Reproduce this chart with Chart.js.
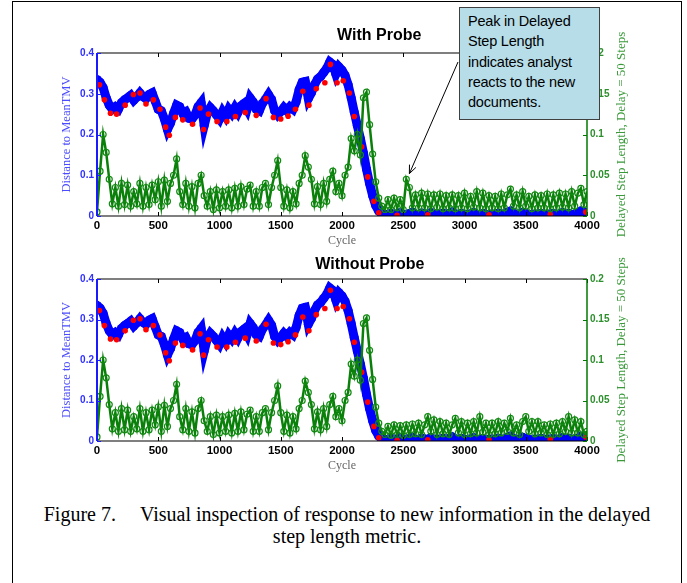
<!DOCTYPE html>
<html>
<head>
<meta charset="utf-8">
<script src="https://cdn.jsdelivr.net/npm/chart.js@4.4.1/dist/chart.umd.min.js"></script>
<style>
  body { margin: 0; background: #fff; }
  #page { position: relative; width: 687px; height: 583px; overflow: hidden; background: #fff; }
  #frame { position: absolute; left: 12px; top: 1px; width: 670px; height: 620px; border: 1.5px solid #000; box-sizing: border-box; }
  canvas { position: absolute; left: 0; }
  #topChart { top: 0; }
  #bottomChart { top: 245px; }
  #note {
    position: absolute; left: 459px; top: 7px; width: 141px; height: 113px;
    box-sizing: border-box; background: #b7dde8; border: 1px solid #404040;
    font-family: "Liberation Sans", Arial, sans-serif; font-size: 14.5px; line-height: 20.3px;
    padding: 3px 0 0 8px; color: #000; letter-spacing: -0.2px; z-index: 2;
  }
  #caption {
    position: absolute; left: 12px; top: 503px; width: 670px; text-align: center;
    font-family: "Liberation Serif", "Times New Roman", serif; font-size: 20px; line-height: 22px; color: #000;
  }
</style>
</head>
<body>
<div id="page">
  <div id="frame"></div>
  <canvas id="topChart" width="687" height="250"></canvas>
  <canvas id="bottomChart" width="687" height="230"></canvas>
  <div id="note">Peak in Delayed<br>Step Length<br>indicates analyst<br>reacts to the new<br>documents.</div>
  <div id="caption">Figure 7.<span style="display:inline-block;width:24px"></span>Visual inspection of response to new information in the delayed<br>step length metric.</div>
</div>
<script>
// samples are read every 25 cycles off the picture
let sampleStep = 25;

// distance to MeanTMV (left axis), 0..4000
let distance = [
  0.335, 0.328, 0.315, 0.29, 0.272, 0.262, 0.268, 0.262, 0.278, 0.285,
  0.29, 0.296, 0.284, 0.292, 0.302, 0.293, 0.288, 0.298, 0.302, 0.282,
  0.262, 0.258, 0.238, 0.212, 0.228, 0.252, 0.272, 0.268, 0.252, 0.256,
  0.24, 0.238, 0.248, 0.268, 0.278, 0.222, 0.252, 0.266, 0.258, 0.248,
  0.238, 0.256, 0.244, 0.262, 0.252, 0.266, 0.254, 0.27, 0.276, 0.262,
  0.29, 0.28, 0.262, 0.258, 0.276, 0.286, 0.298, 0.286, 0.258, 0.248,
  0.256, 0.266, 0.258, 0.268, 0.262, 0.28, 0.31, 0.328, 0.33, 0.288,
  0.302, 0.322, 0.336, 0.342, 0.352, 0.362, 0.378, 0.372, 0.348, 0.366,
  0.358, 0.345, 0.322, 0.29, 0.255, 0.222, 0.19, 0.155, 0.115, 0.08,
  0.05, 0.026, 0.012, 0.005, 0.003, 0.004, 0.006, 0.003, 0.005, 0.008,
  0.004, 0.003, 0.006, 0.009, 0.004, 0.003, 0.007, 0.005, 0.004, 0.008,
  0.003, 0.005, 0.004, 0.007, 0.003, 0.006, 0.01, 0.005, 0.003, 0.006,
  0.004, 0.003, 0.005, 0.008, 0.004, 0.003, 0.006, 0.004, 0.003, 0.005,
  0.004, 0.007, 0.005, 0.004, 0.009, 0.012, 0.006, 0.004, 0.005, 0.009,
  0.006, 0.004, 0.003, 0.005, 0.004, 0.006, 0.003, 0.005, 0.004, 0.006,
  0.003, 0.005, 0.008, 0.004, 0.006, 0.003, 0.005, 0.007, 0.012, 0.01,
  0.008
];

// red markers seen along the lower edge of the blue band: [cycle, distance]
let redPoints = [
  [20, 0.322], [60, 0.285], [110, 0.252], [160, 0.25], [230, 0.272], [297, 0.298],
  [351, 0.302], [400, 0.275], [460, 0.285], [514, 0.262], [560, 0.218], [590, 0.198],
  [640, 0.242], [700, 0.236], [780, 0.225], [841, 0.265], [870, 0.212], [910, 0.25],
  [980, 0.232], [1060, 0.232], [1130, 0.244], [1210, 0.254], [1300, 0.247], [1380, 0.288],
  [1440, 0.242], [1500, 0.238], [1560, 0.245], [1620, 0.262], [1680, 0.306], [1730, 0.272],
  [1790, 0.312], [1860, 0.327], [1905, 0.372], [1960, 0.327], [2010, 0.332], [2060, 0.302],
  [2100, 0.244], [2160, 0.17], [2210, 0.096], [2260, 0.036], [2300, 0.008], [2450, 0.002],
  [2700, 0.003], [3200, 0.003], [3700, 0.004], [3990, 0.01]
];

// delayed step length (right axis), 0..2350, same in both runs
let stepShared = [
  0.005, 0.055, 0.1, 0.078, 0.045, 0.015, 0.035, 0.012, 0.04, 0.014,
  0.038, 0.012, 0.03, 0.015, 0.04, 0.012, 0.035, 0.014, 0.038, 0.02,
  0.042, 0.012, 0.044, 0.018, 0.04, 0.05, 0.07, 0.03, 0.014, 0.04,
  0.012, 0.036, 0.01, 0.04, 0.05, 0.025, 0.012, 0.03, 0.008, 0.032,
  0.01, 0.03, 0.012, 0.032, 0.01, 0.034, 0.012, 0.036, 0.014, 0.033,
  0.038, 0.012, 0.03, 0.012, 0.035, 0.04, 0.014, 0.035, 0.05, 0.068,
  0.035, 0.012, 0.032, 0.01, 0.03, 0.015, 0.04, 0.05, 0.074, 0.06,
  0.045, 0.015, 0.036, 0.014, 0.04, 0.018, 0.045, 0.055, 0.03, 0.04,
  0.025, 0.05, 0.06, 0.095, 0.08, 0.1, 0.075, 0.145, 0.152, 0.112,
  0.076, 0.042, 0.022, 0.012, 0.008
];

// 2375..4000, with probe
let stepWithProbe = [
  0.02, 0.008, 0.022, 0.01, 0.02, 0.008, 0.045, 0.035, 0.01, 0.026,
  0.01, 0.028, 0.01, 0.027, 0.009, 0.026, 0.011, 0.027, 0.009, 0.025,
  0.01, 0.026, 0.009, 0.025, 0.01, 0.028, 0.009, 0.024, 0.011, 0.03,
  0.01, 0.028, 0.009, 0.025, 0.01, 0.024, 0.009, 0.027, 0.01, 0.026,
  0.033, 0.012, 0.026, 0.01, 0.03, 0.012, 0.024, 0.009, 0.026, 0.01,
  0.025, 0.01, 0.027, 0.009, 0.026, 0.01, 0.028, 0.011, 0.027, 0.01,
  0.03, 0.012, 0.028, 0.034, 0.014, 0.03
];

// 2375..4000, without probe
let stepWithoutProbe = [
  0.018, 0.007, 0.02, 0.008, 0.019, 0.007, 0.02, 0.008, 0.021, 0.009,
  0.022, 0.008, 0.02, 0.03, 0.012, 0.026, 0.008, 0.024, 0.009, 0.022,
  0.008, 0.02, 0.028, 0.01, 0.024, 0.008, 0.022, 0.009, 0.024, 0.01,
  0.03, 0.011, 0.022, 0.008, 0.022, 0.009, 0.024, 0.01, 0.022, 0.012,
  0.028, 0.01, 0.02, 0.008, 0.024, 0.03, 0.012, 0.024, 0.009, 0.024,
  0.01, 0.02, 0.008, 0.021, 0.008, 0.022, 0.009, 0.024, 0.012, 0.03,
  0.01, 0.026, 0.01, 0.024, 0.008, 0.012
];

let xTicks = [0, 500, 1000, 1500, 2000, 2500, 3000, 3500, 4000];
let leftTicks = [0, 0.1, 0.2, 0.3, 0.4];
let rightTicks = [0, 0.05, 0.1, 0.15, 0.2];

// where the note's arrow points: [cycle, step length]
let arrowTarget = [2550, 0.052];

const SANS = '"Liberation Sans", Arial, sans-serif';
const SERIF = '"Liberation Serif", "Times New Roman", serif';

function toPoints(values) {
  return values.map((v, i) => ({ x: i * sampleStep, y: v }));
}

function line(ctx, x1, y1, x2, y2) {
  ctx.beginPath();
  ctx.moveTo(x1, y1);
  ctx.lineTo(x2, y2);
  ctx.stroke();
}

// matlab style box, inward ticks, titles and the arrow
const matlabAxes = {
  id: 'matlabAxes',
  afterDraw(chart, args, opts) {
    let ctx = chart.ctx;
    let a = chart.chartArea;
    let sx = chart.scales.x, sy = chart.scales.y, sy2 = chart.scales.y2;
    ctx.save();

    ctx.strokeStyle = '#000';
    ctx.lineWidth = 1.2;
    line(ctx, a.left, a.top, a.right, a.top);
    line(ctx, a.left, a.bottom, a.right, a.bottom);
    ctx.lineWidth = 1;
    xTicks.forEach(t => {
      let px = Math.round(sx.getPixelForValue(t)) + 0.5;
      line(ctx, px, a.bottom, px, a.bottom - 4);
      line(ctx, px, a.top, px, a.top + 4);
    });

    ctx.strokeStyle = '#1a1aff';
    ctx.lineWidth = 2;
    line(ctx, a.left, a.top, a.left, a.bottom);
    ctx.lineWidth = 1;
    leftTicks.forEach(t => {
      let py = Math.round(sy.getPixelForValue(t)) + 0.5;
      line(ctx, a.left, py, a.left + 4, py);
    });

    ctx.strokeStyle = '#007a00';
    ctx.lineWidth = 1.5;
    line(ctx, a.right, a.top, a.right, a.bottom);
    ctx.lineWidth = 1;
    rightTicks.forEach(t => {
      let py = Math.round(sy2.getPixelForValue(t)) + 0.5;
      line(ctx, a.right, py, a.right - 4, py);
    });

    // titles
    ctx.fillStyle = '#000';
    ctx.font = 'bold 16px ' + SANS;
    ctx.textAlign = 'center';
    ctx.textBaseline = 'middle';
    ctx.fillText(opts.title, a.left + (a.right - a.left) * opts.titleAt, a.top - opts.titleGap);

    ctx.fillStyle = '#666';
    ctx.font = '12px ' + SERIF;
    ctx.fillText('Cycle', (a.left + a.right) / 2, a.bottom + 25);

    let midY = (a.top + a.bottom) / 2;
    ctx.save();
    ctx.translate(a.left - 30, midY);
    ctx.rotate(-Math.PI / 2);
    ctx.fillStyle = '#4b4bff';
    ctx.font = '12.5px ' + SERIF;
    ctx.fillText('Distance to MeanTMV', 0, 0);
    ctx.restore();

    ctx.save();
    ctx.translate(a.right + 35, midY);
    ctx.rotate(-Math.PI / 2);
    ctx.fillStyle = '#3a9a3a';
    ctx.font = '13px ' + SERIF;
    ctx.fillText('Delayed Step Length, Delay = 50 Steps', 0, 0);
    ctx.restore();

    if (opts.arrow) {
      let hx = sx.getPixelForValue(arrowTarget[0]);
      let hy = sy2.getPixelForValue(arrowTarget[1]);
      let tx = opts.arrow[0], ty = opts.arrow[1];
      let ang = Math.atan2(hy - ty, hx - tx);
      ctx.strokeStyle = '#000';
      ctx.lineWidth = 1;
      line(ctx, tx, ty, hx, hy);
      line(ctx, hx, hy, hx - 9 * Math.cos(ang - 0.4), hy - 9 * Math.sin(ang - 0.4));
      line(ctx, hx, hy, hx - 9 * Math.cos(ang + 0.4), hy - 9 * Math.sin(ang + 0.4));
    }
    ctx.restore();
  }
};

function makeChart(id, title, stepTail, padTop, titleAt, titleGap, arrow) {
  let ctx = document.getElementById(id).getContext('2d');
  return new Chart(ctx, {
    type: 'scatter',
    data: {
      datasets: [
        {
          label: 'Delayed step length',
          data: toPoints(stepShared.concat(stepTail)),
          yAxisID: 'y2',
          showLine: true,
          borderColor: '#0a800a',
          borderWidth: 2.5,
          pointRadius: 3,
          pointStyle: 'circle',
          pointBackgroundColor: 'rgba(0,0,0,0)',
          pointBorderColor: '#138a13',
          pointBorderWidth: 1.2
        },
        {
          label: 'Red',
          data: redPoints.map(p => ({ x: p[0], y: p[1] })),
          yAxisID: 'y',
          showLine: false,
          pointRadius: 2.8,
          pointBackgroundColor: '#ff0000',
          pointBorderWidth: 0
        },
        {
          label: 'Distance',
          data: toPoints(distance),
          yAxisID: 'y',
          showLine: true,
          borderColor: '#0000ff',
          borderWidth: 9,
          pointRadius: 4.5,
          pointBackgroundColor: '#0000ff',
          pointBorderWidth: 0
        }
      ]
    },
    options: {
      responsive: false,
      animation: false,
      layout: { padding: { top: padTop, left: 0, right: 0, bottom: 0 } },
      plugins: {
        legend: { display: false },
        tooltip: { enabled: false },
        matlabAxes: { title, titleAt, titleGap, arrow }
      },
      scales: {
        x: {
          type: 'linear', min: 0, max: 4000,
          afterBuildTicks: s => { s.ticks = xTicks.map(v => ({ value: v })); },
          ticks: { color: '#000', font: { family: SANS, size: 11.5, weight: 'bold' }, padding: 3, maxRotation: 0, callback: v => String(v) },
          grid: { display: false, drawTicks: false },
          border: { display: false },
          afterFit: s => { s.height = 34; }
        },
        y: {
          position: 'left', min: 0, max: 0.4,
          afterBuildTicks: s => { s.ticks = leftTicks.map(v => ({ value: v })); },
          ticks: { color: '#3030ff', font: { family: SANS, size: 10, weight: 'bold' }, padding: 3, callback: v => String(v) },
          grid: { display: false, drawTicks: false },
          border: { display: false },
          afterFit: s => { s.width = 97; }
        },
        y2: {
          position: 'right', min: 0, max: 0.2,
          afterBuildTicks: s => { s.ticks = rightTicks.map(v => ({ value: v })); },
          ticks: { color: '#2b8f2b', font: { family: SANS, size: 10, weight: 'bold' }, padding: 3, callback: v => String(v) },
          grid: { display: false, drawTicks: false },
          border: { display: false },
          afterFit: s => { s.width = 100; }
        }
      }
    },
    plugins: [matlabAxes]
  });
}

makeChart('topChart', 'With Probe', stepWithProbe, 53, 0.576, 17, [458, 62]);
makeChart('bottomChart', 'Without Probe', stepWithoutProbe, 34, 0.557, 14, null);
</script>
</body>
</html>
